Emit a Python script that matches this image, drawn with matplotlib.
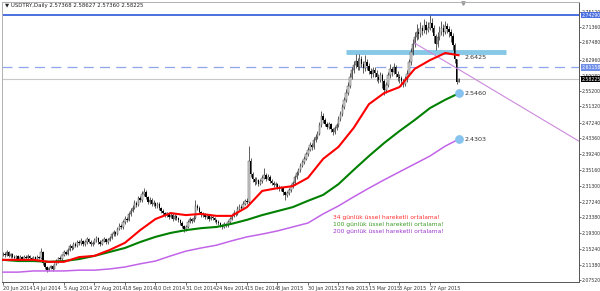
import matplotlib.pyplot as plt
import matplotlib.transforms as mtransforms
import numpy as np

# daily USDTRY bars, 20 Jun 2014 -> mid May 2015
closes = [
    2.142, 2.138, 2.145, 2.136, 2.140, 2.134, 2.131, 2.135, 2.129, 2.133,
    2.128, 2.134, 2.131, 2.136, 2.130, 2.127, 2.132, 2.129, 2.133, 2.130,
    2.146, 2.118, 2.108, 2.101, 2.105, 2.110, 2.104, 2.115, 2.122, 2.130,
    2.127, 2.138, 2.145, 2.141, 2.152, 2.160, 2.156, 2.166, 2.162, 2.171,
    2.168, 2.174, 2.166, 2.170, 2.178, 2.172, 2.165, 2.169, 2.175, 2.180,
    2.171, 2.167, 2.173, 2.178, 2.170, 2.176, 2.182, 2.190, 2.196, 2.192,
    2.205, 2.212, 2.208, 2.221, 2.230, 2.226, 2.241, 2.250, 2.258, 2.270,
    2.264, 2.281, 2.276, 2.292, 2.298, 2.285, 2.272, 2.278, 2.266, 2.270,
    2.262, 2.268, 2.257, 2.250, 2.244, 2.238, 2.243, 2.234, 2.240, 2.229,
    2.236, 2.231, 2.226, 2.220, 2.212, 2.204, 2.210, 2.222, 2.228, 2.225,
    2.232, 2.262, 2.258, 2.246, 2.238, 2.242, 2.233, 2.237, 2.229, 2.235,
    2.231, 2.226, 2.222, 2.218, 2.212, 2.210, 2.216, 2.213, 2.222, 2.230,
    2.236, 2.245, 2.242, 2.255, 2.260, 2.258, 2.268, 2.274, 2.272, 2.375,
    2.342, 2.330, 2.322, 2.328, 2.318, 2.325, 2.333, 2.340, 2.331, 2.336,
    2.326, 2.320, 2.314, 2.318, 2.310, 2.304, 2.308, 2.296, 2.290, 2.294,
    2.302, 2.312, 2.320, 2.334, 2.345, 2.352, 2.364, 2.372, 2.381, 2.392,
    2.404, 2.416, 2.410, 2.428, 2.436, 2.444, 2.466, 2.488, 2.478, 2.470,
    2.462, 2.468, 2.455, 2.448, 2.458, 2.466, 2.482, 2.494, 2.512, 2.530,
    2.548, 2.566, 2.588, 2.605, 2.618, 2.628, 2.612, 2.632, 2.620, 2.610,
    2.626, 2.615, 2.603, 2.596, 2.605, 2.598, 2.588, 2.580, 2.592, 2.578,
    2.555, 2.568, 2.592, 2.608, 2.600, 2.612, 2.596, 2.588, 2.584, 2.578,
    2.570, 2.582, 2.596, 2.625, 2.650, 2.672, 2.688, 2.702, 2.695, 2.710,
    2.704, 2.718, 2.706, 2.712, 2.725, 2.712, 2.690, 2.672, 2.688, 2.700,
    2.710, 2.702, 2.716, 2.708, 2.700, 2.692, 2.668, 2.632, 2.574, 2.582,
]
highs = [
    2.147, 2.146, 2.151, 2.148, 2.144, 2.143, 2.138, 2.139, 2.138, 2.137,
    2.136, 2.138, 2.137, 2.140, 2.139, 2.133, 2.136, 2.135, 2.137, 2.136,
    2.156, 2.148, 2.121, 2.111, 2.109, 2.114, 2.113, 2.119, 2.127, 2.134,
    2.135, 2.142, 2.150, 2.149, 2.157, 2.166, 2.164, 2.172, 2.170, 2.176,
    2.175, 2.180, 2.177, 2.175, 2.184, 2.181, 2.175, 2.174, 2.180, 2.187,
    2.183, 2.175, 2.178, 2.183, 2.181, 2.180, 2.187, 2.195, 2.202, 2.200,
    2.210, 2.218, 2.216, 2.226, 2.236, 2.234, 2.247, 2.256, 2.264, 2.277,
    2.275, 2.287, 2.286, 2.299, 2.307, 2.302, 2.288, 2.284, 2.281, 2.276,
    2.273, 2.273, 2.271, 2.260, 2.254, 2.248, 2.248, 2.246, 2.245, 2.243,
    2.241, 2.239, 2.234, 2.230, 2.223, 2.215, 2.214, 2.227, 2.233, 2.232,
    2.238, 2.276, 2.268, 2.261, 2.249, 2.247, 2.245, 2.242, 2.240, 2.240,
    2.238, 2.234, 2.230, 2.226, 2.221, 2.216, 2.221, 2.220, 2.227, 2.235,
    2.241, 2.251, 2.250, 2.261, 2.266, 2.265, 2.274, 2.280, 2.283, 2.414,
    2.384, 2.348, 2.336, 2.334, 2.331, 2.330, 2.339, 2.357, 2.345, 2.342,
    2.339, 2.330, 2.324, 2.323, 2.321, 2.314, 2.313, 2.311, 2.299, 2.299,
    2.307, 2.317, 2.326, 2.340, 2.351, 2.358, 2.370, 2.379, 2.388, 2.399,
    2.411, 2.424, 2.422, 2.435, 2.443, 2.452, 2.474, 2.502, 2.496, 2.484,
    2.475, 2.474, 2.471, 2.460, 2.464, 2.472, 2.489, 2.501, 2.519, 2.538,
    2.556, 2.574, 2.597, 2.614, 2.628, 2.646, 2.636, 2.645, 2.641, 2.628,
    2.644, 2.634, 2.622, 2.610, 2.614, 2.612, 2.604, 2.596, 2.600, 2.598,
    2.582, 2.575, 2.600, 2.620, 2.614, 2.622, 2.618, 2.602, 2.594, 2.590,
    2.583, 2.590, 2.604, 2.634, 2.660, 2.684, 2.700, 2.722, 2.712, 2.726,
    2.720, 2.734, 2.728, 2.726, 2.744, 2.736, 2.718, 2.696, 2.700, 2.716,
    2.728, 2.722, 2.730, 2.724, 2.716, 2.708, 2.698, 2.674, 2.634, 2.586,
]
lows = [
    2.136, 2.134, 2.135, 2.132, 2.131, 2.130, 2.127, 2.128, 2.126, 2.126,
    2.125, 2.126, 2.128, 2.129, 2.127, 2.124, 2.125, 2.126, 2.127, 2.127,
    2.128, 2.114, 2.103, 2.096, 2.097, 2.102, 2.099, 2.102, 2.112, 2.119,
    2.123, 2.124, 2.135, 2.137, 2.138, 2.149, 2.151, 2.153, 2.158, 2.159,
    2.163, 2.164, 2.162, 2.162, 2.167, 2.168, 2.160, 2.161, 2.166, 2.172,
    2.167, 2.162, 2.164, 2.170, 2.166, 2.167, 2.173, 2.179, 2.186, 2.187,
    2.189, 2.201, 2.203, 2.205, 2.217, 2.221, 2.223, 2.237, 2.246, 2.254,
    2.259, 2.261, 2.271, 2.273, 2.288, 2.280, 2.266, 2.268, 2.262, 2.261,
    2.257, 2.258, 2.252, 2.245, 2.240, 2.233, 2.234, 2.229, 2.231, 2.225,
    2.226, 2.227, 2.221, 2.215, 2.207, 2.197, 2.200, 2.207, 2.218, 2.220,
    2.222, 2.229, 2.251, 2.241, 2.233, 2.234, 2.229, 2.229, 2.224, 2.226,
    2.226, 2.221, 2.217, 2.213, 2.208, 2.205, 2.207, 2.208, 2.210, 2.219,
    2.226, 2.233, 2.237, 2.239, 2.251, 2.253, 2.255, 2.264, 2.266, 2.269,
    2.335, 2.323, 2.316, 2.317, 2.313, 2.314, 2.321, 2.329, 2.326, 2.327,
    2.321, 2.315, 2.309, 2.310, 2.305, 2.299, 2.300, 2.290, 2.278, 2.284,
    2.290, 2.298, 2.308, 2.316, 2.330, 2.340, 2.348, 2.360, 2.368, 2.377,
    2.388, 2.400, 2.404, 2.406, 2.423, 2.431, 2.440, 2.462, 2.472, 2.464,
    2.456, 2.457, 2.449, 2.440, 2.443, 2.453, 2.462, 2.477, 2.489, 2.507,
    2.524, 2.542, 2.561, 2.582, 2.598, 2.610, 2.604, 2.606, 2.612, 2.598,
    2.603, 2.606, 2.594, 2.586, 2.588, 2.588, 2.578, 2.572, 2.575, 2.560,
    2.541, 2.548, 2.562, 2.586, 2.591, 2.594, 2.588, 2.578, 2.572, 2.566,
    2.562, 2.564, 2.576, 2.590, 2.619, 2.644, 2.664, 2.682, 2.684, 2.688,
    2.694, 2.698, 2.696, 2.700, 2.706, 2.702, 2.674, 2.656, 2.664, 2.682,
    2.694, 2.692, 2.696, 2.698, 2.688, 2.676, 2.656, 2.622, 2.570, 2.574,
]
first_open = 2.140

# moving averages read every 8 bars
ma_idx = list(range(0, 240, 8)) + [239]
ema34 = [2.126, 2.126, 2.126, 2.121, 2.121, 2.133, 2.136, 2.151, 2.169, 2.201,
         2.229, 2.244, 2.239, 2.242, 2.237, 2.237, 2.259, 2.300, 2.307, 2.312,
         2.333, 2.381, 2.411, 2.459, 2.519, 2.547, 2.562, 2.608, 2.630, 2.648,
         2.6425]
ema100 = [2.126, 2.123, 2.123, 2.121, 2.123, 2.128, 2.136, 2.146, 2.156, 2.171,
          2.184, 2.194, 2.201, 2.206, 2.209, 2.217, 2.227, 2.239, 2.249, 2.259,
          2.275, 2.290, 2.317, 2.353, 2.388, 2.421, 2.451, 2.479, 2.509, 2.530,
          2.546]
ema200 = [2.095, 2.095, 2.098, 2.098, 2.098, 2.100, 2.100, 2.103, 2.108, 2.116,
          2.123, 2.136, 2.148, 2.156, 2.163, 2.174, 2.184, 2.191, 2.199, 2.209,
          2.219, 2.242, 2.262, 2.285, 2.307, 2.328, 2.348, 2.368, 2.388, 2.413,
          2.4303]

date_pos = list(range(0, 225, 16))
date_labels = ['20 Jun 2014', '14 Jul 2014', '5 Aug 2014', '27 Aug 2014',
               '18 Sep 2014', '10 Oct 2014', '31 Oct 2014', '24 Nov 2014',
               '15 Dec 2014', '8 Jan 2015', '30 Jan 2015', '23 Feb 2015',
               '15 Mar 2015', '3 Apr 2015', '27 Apr 2015']
price_ticks = [2.07520, 2.11380, 2.15240, 2.19300, 2.23380, 2.27240, 2.31300,
               2.35160, 2.39240, 2.43360, 2.47240, 2.51320, 2.55200, 2.59080,
               2.62960, 2.67480, 2.71360, 2.75120]

resistance = 2.74290
dashed_level = 2.61158
bid = 2.58225
band_level = 2.6507
band_x = [180, 264]
trend_x = [216, 302]
trend_y = [2.673, 2.426]
title = '\u25bc USDTRY,Daily 2.57368 2.58627 2.57360 2.58225'

small = ['Liberation Sans Narrow', 'DejaVu Sans']
plt.rcParams['font.family'] = 'DejaVu Sans'
fig = plt.figure(figsize=(6, 2.91), dpi=100)
ax = fig.add_axes([2 / 600, 1 - 282 / 291, 577 / 600, 280 / 291])

closes = np.array(closes)
idx = np.arange(len(closes))
opens = np.r_[first_open, closes[:-1]]
up = closes >= opens

ax.vlines(idx, lows, highs, color='#333333', lw=0.55, zorder=2)
ax.bar(idx[up], closes[up] - opens[up], bottom=opens[up], width=0.75,
       color='#d8d8d8', edgecolor='#333333', lw=0.3, zorder=2)
ax.bar(idx[~up], opens[~up] - closes[~up], bottom=closes[~up], width=0.75,
       color='black', lw=0, zorder=2)

# levels
ax.axhline(resistance, color='#4a6fe0', lw=1.4, zorder=1)
ax.axhline(dashed_level, color='#8fa6ec', lw=0.9, ls=(0, (8, 5)), zorder=1)
ax.axhline(bid, color='#c8c8c8', lw=0.8, zorder=1)
ax.plot(band_x, [band_level, band_level], color='#87c8e6', lw=3.5, zorder=1,
        solid_capstyle='butt')
ax.plot(trend_x, trend_y, color='#cc88dd', lw=0.8, zorder=3)

ax.plot(ma_idx, ema200, color='#c264e8', lw=1.1, zorder=4)
ax.plot(ma_idx, ema100, color='#008000', lw=1.5, zorder=4)
ax.plot(ma_idx, ema34, color='#ff0000', lw=1.5, zorder=5)

ax.scatter([ma_idx[-1], ma_idx[-1]], [ema100[-1], ema200[-1]], s=28,
           color='#87c3ee', zorder=6)
for val, dy in [(ema100[-1], 0), (ema200[-1], 0), (ema34[-1], -2)]:
    ax.annotate(f'{val:.4f}', (ma_idx[-1], val), xytext=(4, dy),
                textcoords='offset points', va='center', fontsize=4.6,
                color='#333333', family=small)

# legend notes
notes = [('34 günlük üssel hareketli ortalama!', '#ff3030'),
         ('100 günlük üssel hareketli ortalama!', '#3c9a28'),
         ('200 günlük üssel hareketli ortalama!', '#9a38c8')]
for k, (txt, col) in enumerate(notes):
    ax.text(0.574, 0.229 - k * 0.025, txt, transform=ax.transAxes,
            fontsize=4.3, color=col, va='center')

ax.text(0.005, 0.986, title, transform=ax.transAxes, fontsize=3.9,
        va='center', color='#222222', family=small)
ax.plot(0.799, 0.996, marker='v', ms=2.5, color='#999999',
        transform=ax.transAxes, clip_on=False)

ax.set_xlim(-0.5, 302.2)
ax.set_ylim(2.0701, 2.7768)

ax.yaxis.tick_right()
ax.set_yticks(price_ticks)
ax.set_yticklabels([f'{v:.5f}' for v in price_ticks])
ax.set_xticks(date_pos)
ax.set_xticklabels(date_labels)
plt.setp(ax.get_xticklabels(), ha='left')
for lab in ax.get_xticklabels() + ax.get_yticklabels():
    lab.set_family(small)
ax.tick_params(axis='x', labelsize=3.5, length=2, width=0.5, colors='#333333',
               pad=1)
ax.tick_params(axis='y', labelsize=3.3, length=1.5, width=0.5, colors='#333333',
               pad=0.6)

for s in ['left', 'top']:
    ax.spines[s].set_color('#b0b0b0')
for s in ['right', 'bottom']:
    ax.spines[s].set_color('#555555')
for s in ax.spines.values():
    s.set_linewidth(0.7)

# price boxes on the right axis
trans = mtransforms.blended_transform_factory(ax.transAxes, ax.transData)
for val, fc in [(resistance, '#4a6fe0'), (dashed_level, '#6f8fe8'), (bid, 'black')]:
    ax.text(1.004, val, f'{val:.5f}', transform=trans, fontsize=3.3,
            color='white', va='center', zorder=10, family=small,
            bbox=dict(boxstyle='square,pad=0.12', fc=fc, ec='none'))

fig.savefig('out.png', dpi=100)
